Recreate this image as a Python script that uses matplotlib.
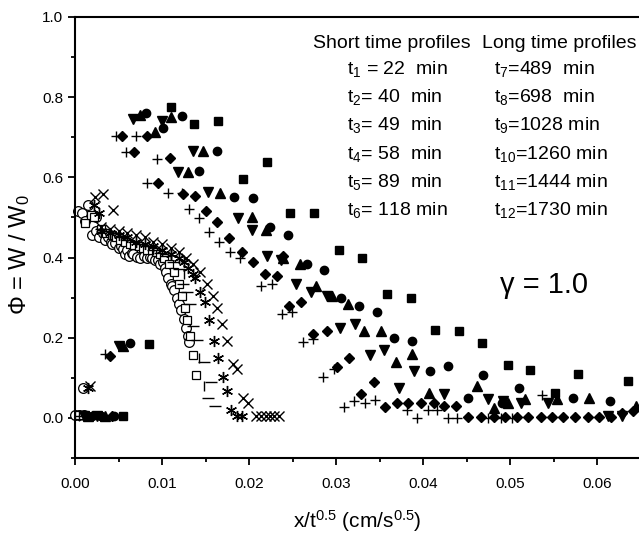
import numpy as np
import matplotlib
matplotlib.use("Agg")
import matplotlib.pyplot as plt

plt.rcParams['font.family'] = ['Liberation Sans', 'DejaVu Sans']
plt.rcParams['mathtext.fontset'] = 'custom'
plt.rcParams['mathtext.rm'] = 'Liberation Sans'
plt.rcParams['mathtext.it'] = 'Liberation Sans:italic'

# === Long time profiles (filled markers) ===
sq_x = [0.0055, 0.0085, 0.0110, 0.0137, 0.0164, 0.0193, 0.0221, 0.0247, 0.0275, 0.0303, 0.0330,
        0.0359, 0.0386, 0.0414, 0.0441, 0.0468, 0.0497, 0.0523, 0.0552, 0.0578, 0.0635]
sq_y = [0.005, 0.185, 0.775, 0.733, 0.740, 0.595, 0.638, 0.510, 0.510, 0.418, 0.400,
        0.310, 0.298, 0.220, 0.218, 0.188, 0.133, 0.120, 0.063, 0.110, 0.093]

ci_x = [0.0020, 0.0030, 0.0045, 0.0063, 0.0082, 0.0101, 0.0123, 0.0163, 0.0143, 0.0183, 0.0205,
        0.0224, 0.0245, 0.0266, 0.0286, 0.0306, 0.0326, 0.0347, 0.0367, 0.0387, 0.0408,
        0.0429, 0.0469, 0.0510, 0.0451, 0.0491, 0.0572, 0.0615]
ci_y = [0.005, 0.005, 0.005, 0.188, 0.760, 0.723, 0.753, 0.665, 0.615, 0.550, 0.548,
        0.475, 0.455, 0.383, 0.370, 0.300, 0.280, 0.263, 0.200, 0.193, 0.118,
        0.130, 0.108, 0.075, 0.050, 0.038, 0.050, 0.043]

up_x = [0.0015, 0.0035, 0.0055, 0.0075, 0.0110, 0.0092, 0.0147, 0.0130, 0.0167, 0.0203, 0.0220,
        0.0239, 0.0259, 0.0277, 0.0295, 0.0314, 0.0332, 0.0351, 0.0369, 0.0387, 0.0407,
        0.0462, 0.0481, 0.0498, 0.0517, 0.0554, 0.0590, 0.0644]
up_y = [0.005, 0.005, 0.180, 0.755, 0.750, 0.713, 0.665, 0.613, 0.560, 0.500, 0.468,
        0.400, 0.385, 0.330, 0.303, 0.283, 0.218, 0.218, 0.140, 0.160, 0.063,
        0.080, 0.025, 0.038, 0.048, 0.048, 0.050, 0.030]

dn_x = [0.0010, 0.0025, 0.0050, 0.0067, 0.0100, 0.0136, 0.0118, 0.0153, 0.0187, 0.0203, 0.0221,
        0.0237, 0.0254, 0.0271, 0.0289, 0.0305, 0.0322, 0.0339, 0.0355, 0.0372, 0.0390,
        0.0424, 0.0475, 0.0492, 0.0512, 0.0543, 0.0612, 0.0629]
dn_y = [0.005, 0.005, 0.180, 0.745, 0.740, 0.665, 0.613, 0.563, 0.498, 0.468, 0.403,
        0.393, 0.335, 0.313, 0.305, 0.225, 0.233, 0.158, 0.170, 0.075, 0.118,
        0.060, 0.048, 0.043, 0.038, 0.038, 0.005, 0.005]

di_x = [0.0015, 0.0030, 0.0040, 0.0042, 0.0054, 0.0083, 0.0068, 0.0109, 0.0095, 0.0124, 0.0138,
        0.0151, 0.0163, 0.0177, 0.0192, 0.0205, 0.0218, 0.0232, 0.0239, 0.0246, 0.0260,
        0.0274, 0.0289, 0.0301, 0.0315, 0.0329, 0.0343, 0.0356, 0.0370, 0.0383, 0.0397,
        0.0412, 0.0424, 0.0438, 0.0452, 0.0466, 0.0481, 0.0494, 0.0508, 0.0521, 0.0535,
        0.0548, 0.0561, 0.0575, 0.0589, 0.0602, 0.0616, 0.0629, 0.0641]
di_y = [0.005, 0.005, 0.155, 0.005, 0.703, 0.703, 0.663, 0.648, 0.585, 0.558, 0.553,
        0.515, 0.488, 0.448, 0.415, 0.388, 0.360, 0.355, 0.403, 0.278, 0.288,
        0.210, 0.218, 0.128, 0.150, 0.060, 0.090, 0.028, 0.038, 0.038, 0.038,
        0.038, 0.030, 0.030, 0.003, 0.003, 0.003, 0.003, 0.003, 0.003, 0.003,
        0.003, 0.003, 0.003, 0.003, 0.003, 0.003, 0.013, 0.018]

pl_x = [0.0005, 0.0020, 0.0034, 0.0047, 0.0070, 0.0059, 0.0094, 0.0083, 0.0107, 0.0123, 0.0131,
        0.0143, 0.0154, 0.0166, 0.0178, 0.0190, 0.0214, 0.0226, 0.0238, 0.0249, 0.0262,
        0.0274, 0.0285, 0.0297, 0.0309, 0.0321, 0.0333, 0.0345, 0.0381, 0.0393, 0.0405,
        0.0416, 0.0429, 0.0439, 0.0475, 0.0489, 0.0502, 0.0536]
pl_y = [0.005, 0.005, 0.160, 0.703, 0.703, 0.663, 0.645, 0.585, 0.560, 0.560, 0.520,
        0.498, 0.463, 0.438, 0.413, 0.398, 0.330, 0.335, 0.260, 0.265, 0.190,
        0.198, 0.103, 0.123, 0.028, 0.043, 0.038, 0.045, 0.020, 0.000, 0.020,
        0.020, 0.000, 0.000, 0.000, 0.000, 0.000, 0.058]

# === Short time profiles (open / line markers) ===
oc_x = [0.0000, 0.0005, 0.0010, 0.0009, 0.0004, 0.0008, 0.0015, 0.0012, 0.0024, 0.0020, 0.0024,
        0.0027, 0.0032, 0.0035, 0.0038, 0.0041, 0.0043, 0.0046, 0.0050, 0.0053, 0.0055,
        0.0057, 0.0060, 0.0062, 0.0065, 0.0067, 0.0071, 0.0075, 0.0079, 0.0083, 0.0086,
        0.0089, 0.0092, 0.0095, 0.0098, 0.0101, 0.0103, 0.0105, 0.0107, 0.0110, 0.0112,
        0.0114, 0.0117, 0.0120, 0.0122, 0.0125, 0.0127, 0.0130, 0.0131]
oc_y = [0.008, 0.008, 0.008, 0.075, 0.515, 0.510, 0.530, 0.490, 0.500, 0.455, 0.465,
        0.452, 0.460, 0.443, 0.450, 0.440, 0.435, 0.437, 0.425, 0.430, 0.422,
        0.410, 0.418, 0.403, 0.412, 0.410, 0.402, 0.400, 0.405, 0.400, 0.402,
        0.400, 0.393, 0.395, 0.385, 0.388, 0.375, 0.365, 0.350, 0.335, 0.330,
        0.320, 0.300, 0.285, 0.270, 0.247, 0.225, 0.205, 0.190]

os_x = [0.0005, 0.0012, 0.0018, 0.0022, 0.0030, 0.0036, 0.0042, 0.0047, 0.0052, 0.0058, 0.0063,
        0.0068, 0.0073, 0.0078, 0.0083, 0.0088, 0.0093, 0.0098, 0.0102, 0.0108, 0.0114,
        0.0119, 0.0123, 0.0126, 0.0129, 0.0132, 0.0136, 0.0139]
os_y = [0.008, 0.485, 0.505, 0.500, 0.470, 0.462, 0.455, 0.450, 0.445, 0.440, 0.435,
        0.432, 0.430, 0.425, 0.420, 0.418, 0.415, 0.408, 0.400, 0.385, 0.365,
        0.335, 0.305, 0.275, 0.245, 0.205, 0.158, 0.108]

hl_x = [0.0030, 0.0038, 0.0045, 0.0052, 0.0060, 0.0068, 0.0075, 0.0082, 0.0090, 0.0098, 0.0105,
        0.0113, 0.0120, 0.0124, 0.0129, 0.0132, 0.0136, 0.0140, 0.0148, 0.0153, 0.0156,
        0.0161]
hl_y = [0.470, 0.465, 0.460, 0.452, 0.445, 0.440, 0.435, 0.428, 0.420, 0.412, 0.405,
        0.390, 0.372, 0.335, 0.313, 0.285, 0.230, 0.195, 0.140, 0.050, 0.090,
        0.030]

vl_x = [0.0040, 0.0060, 0.0090, 0.0110, 0.0125, 0.0143, 0.0148]
vl_y = [0.460, 0.450, 0.420, 0.410, 0.360, 0.150, 0.080]

as_x = [0.0015, 0.0022, 0.0028, 0.0030, 0.0040, 0.0050, 0.0060, 0.0070, 0.0080, 0.0090, 0.0100,
        0.0110, 0.0120, 0.0125, 0.0130, 0.0135, 0.0138, 0.0144, 0.0149, 0.0154, 0.0160,
        0.0164, 0.0170, 0.0175, 0.0179, 0.0186, 0.0192]
as_y = [0.075, 0.530, 0.510, 0.465, 0.460, 0.455, 0.450, 0.440, 0.435, 0.430, 0.420,
        0.410, 0.400, 0.390, 0.375, 0.360, 0.350, 0.313, 0.288, 0.243, 0.193,
        0.150, 0.103, 0.068, 0.020, 0.005, 0.005]

xx_x = [0.0017, 0.0023, 0.0032, 0.0044, 0.0030, 0.0040, 0.0050, 0.0060, 0.0070, 0.0080, 0.0090,
        0.0100, 0.0110, 0.0120, 0.0128, 0.0135, 0.0144, 0.0152, 0.0158, 0.0163, 0.0169,
        0.0175, 0.0182, 0.0186, 0.0193, 0.0199, 0.0208, 0.0214, 0.0219, 0.0224, 0.0229,
        0.0234]
xx_y = [0.080, 0.550, 0.558, 0.518, 0.475, 0.470, 0.465, 0.460, 0.455, 0.450, 0.440,
        0.435, 0.425, 0.415, 0.400, 0.385, 0.363, 0.335, 0.305, 0.273, 0.233,
        0.193, 0.135, 0.123, 0.050, 0.038, 0.005, 0.005, 0.005, 0.005, 0.005,
        0.005]

short_labels = ["t$_{1}$ = 22  min", "t$_{2}$= 40  min", "t$_{3}$= 49  min",
                "t$_{4}$= 58  min", "t$_{5}$= 89  min", "t$_{6}$= 118 min"]
long_labels = ["t$_{7}$=489  min", "t$_{8}$=698  min", "t$_{9}$=1028 min",
               "t$_{10}$=1260 min", "t$_{11}$=1444 min", "t$_{12}$=1730 min"]

W, H = 639, 537
fig = plt.figure(figsize=(W / 100, H / 100), dpi=100)
ax = fig.add_axes([75 / W, 1 - 458 / H, 1 - 75 / W, (458 - 17) / H])

kw = dict(linestyle='none', clip_on=False)
# short time
ax.plot(oc_x, oc_y, marker='o', ms=7, mfc='white', mec='black', mew=0.9, **kw)
ax.plot(os_x, os_y, marker='s', ms=6, mfc='white', mec='black', mew=0.9, **kw)
ax.plot(hl_x, hl_y, marker='_', ms=8, mec='black', mew=1.0, **kw)
ax.plot(vl_x, vl_y, marker='|', ms=7, mec='black', mew=1.0, **kw)
ax.plot(as_x, as_y, marker=(6, 2, 0), ms=8, mec='black', mew=1.0, **kw)
ax.plot(xx_x, xx_y, marker='x', ms=7, mec='black', mew=1.0, **kw)
# long time
ax.plot(pl_x, pl_y, marker='+', ms=7, mec='black', mew=1.0, **kw)
ax.plot(di_x, di_y, marker='D', ms=5, color='black', **kw)
ax.plot(dn_x, dn_y, marker='v', ms=7, color='black', **kw)
ax.plot(up_x, up_y, marker='^', ms=7, color='black', **kw)
ax.plot(ci_x, ci_y, marker='o', ms=6, color='black', **kw)
ax.plot(sq_x, sq_y, marker='s', ms=5.5, color='black', **kw)

ax.set_xlim(0, 0.0648)
ax.set_ylim(-0.1, 1.0)
ax.set_xticks([0.0, 0.01, 0.02, 0.03, 0.04, 0.05, 0.06])
ax.set_xticklabels(['0.00', '0.01', '0.02', '0.03', '0.04', '0.05', '0.06'])
ax.set_xticks(np.arange(0.005, 0.065, 0.01), minor=True)
ax.set_yticks([0.0, 0.2, 0.4, 0.6, 0.8, 1.0])
ax.set_yticklabels(['0.0', '0.2', '0.4', '0.6', '0.8', '1.0'])
ax.set_yticks([-0.1, 0.1, 0.3, 0.5, 0.7, 0.9], minor=True)

ax.spines['right'].set_visible(False)
for s in ['left', 'bottom', 'top']:
    ax.spines[s].set_linewidth(1.5)
ax.tick_params(axis='both', which='major', direction='out', length=5, width=1.3, labelsize=11)
ax.tick_params(axis='x', which='major', pad=9)
ax.tick_params(axis='both', which='minor', direction='out', length=3, width=1.3)
ax.tick_params(top=False, right=False)

fig.text(20 / W, 1 - 255 / H, 'Φ = W / W$_{0}$', fontsize=17, rotation=90, ha='center', va='center')
ax.set_xlabel('x/t$^{0.5}$ (cm/s$^{0.5}$)', fontsize=15, labelpad=12)

# legend-like text block
fig.text(313 / W, 1 - 48 / H, 'Short time profiles', fontsize=14, va='baseline')
fig.text(482 / W, 1 - 48 / H, 'Long time profiles', fontsize=14, va='baseline')
for i, (s, l) in enumerate(zip(short_labels, long_labels)):
    yb = 1 - (74 + 28.2 * i) / H
    fig.text(347 / W, yb, s, fontsize=14, va='baseline')
    fig.text(494 / W, yb, l, fontsize=14, va='baseline')

fig.text(500 / W, 1 - 293 / H, 'γ = 1.0', fontsize=21, va='baseline')

fig.savefig('out.png', dpi=100)
